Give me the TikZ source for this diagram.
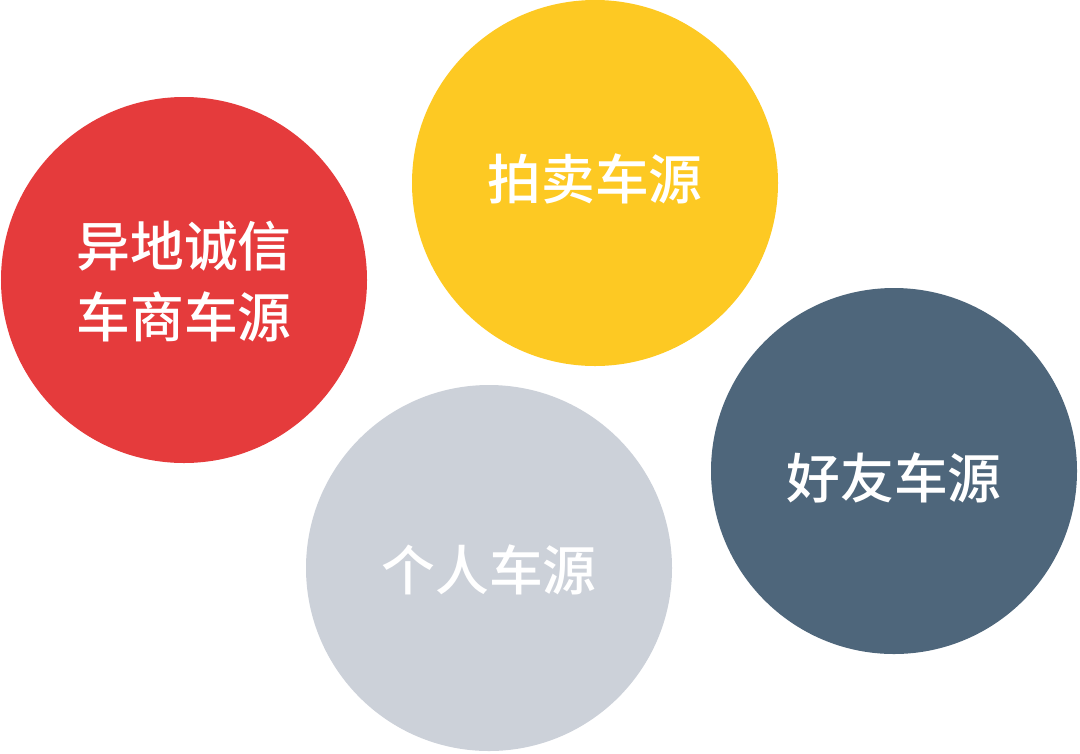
\documentclass[tikz,border=0pt]{standalone}
\usepackage{fontspec}
\newfontfamily\cjk{Noto Sans CJK SC Medium}
\usepackage{tikz}
\usetikzlibrary{positioning}
\definecolor{SrcRed}{HTML}{E53B3C}
\definecolor{SrcYellow}{HTML}{FDC923}
\definecolor{SrcSlate}{HTML}{4E667B}
\definecolor{SrcGray}{HTML}{CCD1D9}

\begin{document}
\begin{tikzpicture}[
  src/.style={circle,minimum size=3.66cm,inner sep=0pt},
  lbl/.style={text=white,align=center,
              font=\cjk\fontsize{15.3}{20.2}\selectfont}]
\useasboundingbox (0,0) rectangle (10.8,-7.53);
\node[src,fill=SrcRed] (dealer) at (1.84,-2.80) {};
\node[src,fill=SrcYellow] (auction) at (5.95,-1.83) {};
\node[src,fill=SrcSlate] (friend) at (8.94,-4.71) {};
\node[src,fill=SrcGray] (private) at (4.89,-5.68) {};
% labels, nudged a little off centre as in the original
\node[lbl] (dealer-t) at ([yshift=-0.02cm]dealer.center) {异地诚信\\车商车源};
\node[lbl] (auction-t) at ([yshift=0.04cm]auction.center) {拍卖车源};
\node[lbl] (friend-t) at ([yshift=-0.07cm]friend.center) {好友车源};
\node[lbl] (private-t) at ([yshift=-0.02cm]private.center) {个人车源};
\end{tikzpicture}
\end{document}
